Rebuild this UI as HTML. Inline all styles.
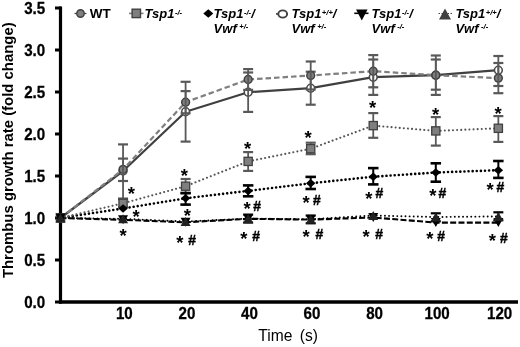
<!DOCTYPE html>
<html><head><meta charset="utf-8"><style>
html,body{margin:0;padding:0;background:#fff;}
body{width:520px;height:347px;overflow:hidden;}
svg{display:block;will-change:transform;font-family:"Liberation Sans",sans-serif;}
.tk{font-size:17.2px;font-weight:bold;fill:#000;stroke:#000;stroke-width:0.3;}
.xt{font-size:15.6px;fill:#000;}
.yt{font-size:14.7px;font-weight:bold;fill:#000;}
.ast{font-size:18.5px;font-weight:bold;fill:#000;}
.hash{font-size:14px;font-weight:bold;font-style:italic;fill:#000;stroke:#000;stroke-width:0.4;}
.lg{font-size:13px;font-weight:bold;font-style:italic;fill:#000;}
.lgn{font-size:13.5px;font-weight:bold;fill:#000;}
.sup{font-size:7.6px;font-weight:bold;}
</style></head><body>
<svg width="520" height="347" viewBox="0 0 520 347">
<rect width="520" height="347" fill="#fff"/>
<line x1="60.5" y1="6.5" x2="60.5" y2="303.5" stroke="#000" stroke-width="3.2"/>
<line x1="59" y1="302" x2="518" y2="302" stroke="#000" stroke-width="3.4"/>
<line x1="55" y1="302" x2="61" y2="302" stroke="#000" stroke-width="3"/>
<line x1="55" y1="260" x2="61" y2="260" stroke="#000" stroke-width="3"/>
<line x1="55" y1="218" x2="61" y2="218" stroke="#000" stroke-width="3"/>
<line x1="55" y1="176" x2="61" y2="176" stroke="#000" stroke-width="3"/>
<line x1="55" y1="134" x2="61" y2="134" stroke="#000" stroke-width="3"/>
<line x1="55" y1="92" x2="61" y2="92" stroke="#000" stroke-width="3"/>
<line x1="55" y1="50" x2="61" y2="50" stroke="#000" stroke-width="3"/>
<line x1="55" y1="8" x2="61" y2="8" stroke="#000" stroke-width="3"/>
<text transform="translate(45.2,308.4) scale(0.88,1)" text-anchor="end" class="tk">0.0</text>
<text transform="translate(45.2,266.4) scale(0.88,1)" text-anchor="end" class="tk">0.5</text>
<text transform="translate(45.2,224.4) scale(0.88,1)" text-anchor="end" class="tk">1.0</text>
<text transform="translate(45.2,182.4) scale(0.88,1)" text-anchor="end" class="tk">1.5</text>
<text transform="translate(45.2,140.4) scale(0.88,1)" text-anchor="end" class="tk">2.0</text>
<text transform="translate(45.2,98.4) scale(0.88,1)" text-anchor="end" class="tk">2.5</text>
<text transform="translate(45.2,56.4) scale(0.88,1)" text-anchor="end" class="tk">3.0</text>
<text transform="translate(45.2,14.4) scale(0.88,1)" text-anchor="end" class="tk">3.5</text>
<text transform="translate(124.35,319) scale(0.88,1)" text-anchor="middle" class="tk">10</text>
<text transform="translate(186.90,319) scale(0.88,1)" text-anchor="middle" class="tk">20</text>
<text transform="translate(249.45,319) scale(0.88,1)" text-anchor="middle" class="tk">40</text>
<text transform="translate(312.00,319) scale(0.88,1)" text-anchor="middle" class="tk">60</text>
<text transform="translate(374.55,319) scale(0.88,1)" text-anchor="middle" class="tk">80</text>
<text transform="translate(437.10,319) scale(0.88,1)" text-anchor="middle" class="tk">100</text>
<text transform="translate(499.65,319) scale(0.88,1)" text-anchor="middle" class="tk">120</text>
<text x="258.3" y="340.8" class="xt">Time</text><text x="317.9" y="340.8" text-anchor="end" class="xt">(s)</text>
<text transform="translate(12.5,150.2) rotate(-90) scale(1.014,1)" text-anchor="middle" class="yt">Thrombus growth rate (fold change)</text>
<polyline points="60.50,218.00 123.05,218.80 185.60,221.50 248.15,218.60 310.70,219.20 373.25,215.50 435.80,217.00 498.35,216.40" fill="none" stroke="#000" stroke-width="1.9" stroke-dasharray="0.01 4.1" stroke-linecap="round" stroke-linejoin="round"/>
<polyline points="60.50,218.00 123.05,219.80 185.60,222.30 248.15,218.80 310.70,219.60 373.25,217.50 435.80,222.60 498.35,222.60" fill="none" stroke="#000" stroke-width="2.1" stroke-dasharray="6 2.3" stroke-linecap="butt" stroke-linejoin="round"/>
<polyline points="60.50,218.00 123.05,208.50 185.60,198.30 248.15,190.90 310.70,183.30 373.25,176.70 435.80,172.50 498.35,170.20" fill="none" stroke="#000" stroke-width="2.6" stroke-dasharray="0.01 4.1" stroke-linecap="round" stroke-linejoin="round"/>
<polyline points="60.50,218.00 123.05,203.30 185.60,186.20 248.15,161.40 310.70,148.70 373.25,125.60 435.80,130.90 498.35,128.30" fill="none" stroke="#555" stroke-width="2.1" stroke-dasharray="0.01 4.1" stroke-linecap="round" stroke-linejoin="round"/>
<polyline points="60.50,218.00 123.05,171.00 185.60,111.70 248.15,92.20 310.70,88.20 373.25,77.20 435.80,75.20 498.35,70.20" fill="none" stroke="#404040" stroke-width="2.2" stroke-linecap="butt" stroke-linejoin="round"/>
<polyline points="60.50,218.00 123.05,169.40 185.60,102.20 248.15,79.50 310.70,75.50 373.25,71.20 435.80,75.20 498.35,78.10" fill="none" stroke="#7f7f7f" stroke-width="2.2" stroke-dasharray="5.5 3" stroke-linecap="butt" stroke-linejoin="round"/>
<circle cx="60.50" cy="218.00" r="3.9" fill="#fff" stroke="#4a4a4a" stroke-width="1.6"/>
<circle cx="123.05" cy="171.00" r="3.9" fill="#fff" stroke="#4a4a4a" stroke-width="1.6"/>
<circle cx="185.60" cy="111.70" r="3.9" fill="#fff" stroke="#4a4a4a" stroke-width="1.6"/>
<circle cx="248.15" cy="92.20" r="3.9" fill="#fff" stroke="#4a4a4a" stroke-width="1.6"/>
<circle cx="310.70" cy="88.20" r="3.9" fill="#fff" stroke="#4a4a4a" stroke-width="1.6"/>
<circle cx="373.25" cy="77.20" r="3.9" fill="#fff" stroke="#4a4a4a" stroke-width="1.6"/>
<circle cx="435.80" cy="75.20" r="3.9" fill="#fff" stroke="#4a4a4a" stroke-width="1.6"/>
<circle cx="498.35" cy="70.20" r="3.9" fill="#fff" stroke="#4a4a4a" stroke-width="1.6"/>
<line x1="123.05" y1="158.6" x2="123.05" y2="181.0" stroke="#595959" stroke-width="1.8"/>
<line x1="118.05" y1="158.6" x2="128.05" y2="158.6" stroke="#595959" stroke-width="2.2"/>
<line x1="118.05" y1="181.0" x2="128.05" y2="181.0" stroke="#595959" stroke-width="2.2"/>
<line x1="185.60" y1="81.8" x2="185.60" y2="141.6" stroke="#595959" stroke-width="1.8"/>
<line x1="180.60" y1="81.8" x2="190.60" y2="81.8" stroke="#595959" stroke-width="2.2"/>
<line x1="180.60" y1="141.6" x2="190.60" y2="141.6" stroke="#595959" stroke-width="2.2"/>
<line x1="248.15" y1="72.5" x2="248.15" y2="111.9" stroke="#595959" stroke-width="1.8"/>
<line x1="243.15" y1="72.5" x2="253.15" y2="72.5" stroke="#595959" stroke-width="2.2"/>
<line x1="243.15" y1="111.9" x2="253.15" y2="111.9" stroke="#595959" stroke-width="2.2"/>
<line x1="310.70" y1="71.7" x2="310.70" y2="104.7" stroke="#595959" stroke-width="1.8"/>
<line x1="305.70" y1="71.7" x2="315.70" y2="71.7" stroke="#595959" stroke-width="2.2"/>
<line x1="305.70" y1="104.7" x2="315.70" y2="104.7" stroke="#595959" stroke-width="2.2"/>
<line x1="373.25" y1="59.5" x2="373.25" y2="94.9" stroke="#595959" stroke-width="1.8"/>
<line x1="368.25" y1="59.5" x2="378.25" y2="59.5" stroke="#595959" stroke-width="2.2"/>
<line x1="368.25" y1="94.9" x2="378.25" y2="94.9" stroke="#595959" stroke-width="2.2"/>
<line x1="435.80" y1="59.5" x2="435.80" y2="89.7" stroke="#595959" stroke-width="1.8"/>
<line x1="430.80" y1="59.5" x2="440.80" y2="59.5" stroke="#595959" stroke-width="2.2"/>
<line x1="430.80" y1="89.7" x2="440.80" y2="89.7" stroke="#595959" stroke-width="2.2"/>
<line x1="498.35" y1="56" x2="498.35" y2="86" stroke="#595959" stroke-width="1.8"/>
<line x1="493.35" y1="56" x2="503.35" y2="56" stroke="#595959" stroke-width="2.2"/>
<line x1="493.35" y1="86" x2="503.35" y2="86" stroke="#595959" stroke-width="2.2"/>
<circle cx="60.50" cy="218.00" r="3.9" fill="#7f7f7f" stroke="#404040" stroke-width="1.5"/>
<circle cx="123.05" cy="169.40" r="3.9" fill="#7f7f7f" stroke="#404040" stroke-width="1.5"/>
<circle cx="185.60" cy="102.20" r="3.9" fill="#7f7f7f" stroke="#404040" stroke-width="1.5"/>
<circle cx="248.15" cy="79.50" r="3.9" fill="#7f7f7f" stroke="#404040" stroke-width="1.5"/>
<circle cx="310.70" cy="75.50" r="3.9" fill="#7f7f7f" stroke="#404040" stroke-width="1.5"/>
<circle cx="373.25" cy="71.20" r="3.9" fill="#7f7f7f" stroke="#404040" stroke-width="1.5"/>
<circle cx="435.80" cy="75.20" r="3.9" fill="#7f7f7f" stroke="#404040" stroke-width="1.5"/>
<circle cx="498.35" cy="78.10" r="3.9" fill="#7f7f7f" stroke="#404040" stroke-width="1.5"/>
<line x1="123.05" y1="144.4" x2="123.05" y2="199" stroke="#595959" stroke-width="1.8"/>
<line x1="118.05" y1="144.4" x2="128.05" y2="144.4" stroke="#595959" stroke-width="2.2"/>
<line x1="118.05" y1="199" x2="128.05" y2="199" stroke="#595959" stroke-width="2.2"/>
<line x1="185.60" y1="91.1" x2="185.60" y2="113.3" stroke="#595959" stroke-width="1.8"/>
<line x1="180.60" y1="91.1" x2="190.60" y2="91.1" stroke="#595959" stroke-width="2.2"/>
<line x1="180.60" y1="113.3" x2="190.60" y2="113.3" stroke="#595959" stroke-width="2.2"/>
<line x1="248.15" y1="69.1" x2="248.15" y2="89.9" stroke="#595959" stroke-width="1.8"/>
<line x1="243.15" y1="69.1" x2="253.15" y2="69.1" stroke="#595959" stroke-width="2.2"/>
<line x1="243.15" y1="89.9" x2="253.15" y2="89.9" stroke="#595959" stroke-width="2.2"/>
<line x1="310.70" y1="61.5" x2="310.70" y2="89.5" stroke="#595959" stroke-width="1.8"/>
<line x1="305.70" y1="61.5" x2="315.70" y2="61.5" stroke="#595959" stroke-width="2.2"/>
<line x1="305.70" y1="89.5" x2="315.70" y2="89.5" stroke="#595959" stroke-width="2.2"/>
<line x1="373.25" y1="55.1" x2="373.25" y2="87.3" stroke="#595959" stroke-width="1.8"/>
<line x1="368.25" y1="55.1" x2="378.25" y2="55.1" stroke="#595959" stroke-width="2.2"/>
<line x1="368.25" y1="87.3" x2="378.25" y2="87.3" stroke="#595959" stroke-width="2.2"/>
<line x1="435.80" y1="55.5" x2="435.80" y2="94.9" stroke="#595959" stroke-width="1.8"/>
<line x1="430.80" y1="55.5" x2="440.80" y2="55.5" stroke="#595959" stroke-width="2.2"/>
<line x1="430.80" y1="94.9" x2="440.80" y2="94.9" stroke="#595959" stroke-width="2.2"/>
<line x1="498.35" y1="63" x2="498.35" y2="93.2" stroke="#595959" stroke-width="1.8"/>
<line x1="493.35" y1="63" x2="503.35" y2="63" stroke="#595959" stroke-width="2.2"/>
<line x1="493.35" y1="93.2" x2="503.35" y2="93.2" stroke="#595959" stroke-width="2.2"/>
<line x1="123.05" y1="198.6" x2="123.05" y2="207" stroke="#595959" stroke-width="1.8"/>
<line x1="118.05" y1="198.6" x2="128.05" y2="198.6" stroke="#595959" stroke-width="2.2"/>
<line x1="118.05" y1="207" x2="128.05" y2="207" stroke="#595959" stroke-width="2.2"/>
<line x1="185.60" y1="179" x2="185.60" y2="193.4" stroke="#595959" stroke-width="1.8"/>
<line x1="180.60" y1="179" x2="190.60" y2="179" stroke="#595959" stroke-width="2.2"/>
<line x1="180.60" y1="193.4" x2="190.60" y2="193.4" stroke="#595959" stroke-width="2.2"/>
<line x1="248.15" y1="152.1" x2="248.15" y2="170.9" stroke="#595959" stroke-width="1.8"/>
<line x1="243.15" y1="152.1" x2="253.15" y2="152.1" stroke="#595959" stroke-width="2.2"/>
<line x1="243.15" y1="170.9" x2="253.15" y2="170.9" stroke="#595959" stroke-width="2.2"/>
<line x1="310.70" y1="142.7" x2="310.70" y2="154.2" stroke="#595959" stroke-width="1.8"/>
<line x1="305.70" y1="142.7" x2="315.70" y2="142.7" stroke="#595959" stroke-width="2.2"/>
<line x1="305.70" y1="154.2" x2="315.70" y2="154.2" stroke="#595959" stroke-width="2.2"/>
<line x1="373.25" y1="113.1" x2="373.25" y2="137.8" stroke="#595959" stroke-width="1.8"/>
<line x1="368.25" y1="113.1" x2="378.25" y2="113.1" stroke="#595959" stroke-width="2.2"/>
<line x1="368.25" y1="137.8" x2="378.25" y2="137.8" stroke="#595959" stroke-width="2.2"/>
<line x1="435.80" y1="117.1" x2="435.80" y2="145.6" stroke="#595959" stroke-width="1.8"/>
<line x1="430.80" y1="117.1" x2="440.80" y2="117.1" stroke="#595959" stroke-width="2.2"/>
<line x1="430.80" y1="145.6" x2="440.80" y2="145.6" stroke="#595959" stroke-width="2.2"/>
<line x1="498.35" y1="116.1" x2="498.35" y2="141.9" stroke="#595959" stroke-width="1.8"/>
<line x1="493.35" y1="116.1" x2="503.35" y2="116.1" stroke="#595959" stroke-width="2.2"/>
<line x1="493.35" y1="141.9" x2="503.35" y2="141.9" stroke="#595959" stroke-width="2.2"/>
<rect x="56.40" y="213.90" width="8.2" height="8.2" fill="#7f7f7f" stroke="#404040" stroke-width="1.3"/>
<rect x="118.95" y="199.20" width="8.2" height="8.2" fill="#7f7f7f" stroke="#404040" stroke-width="1.3"/>
<rect x="181.50" y="182.10" width="8.2" height="8.2" fill="#7f7f7f" stroke="#404040" stroke-width="1.3"/>
<rect x="244.05" y="157.30" width="8.2" height="8.2" fill="#7f7f7f" stroke="#404040" stroke-width="1.3"/>
<rect x="306.60" y="144.60" width="8.2" height="8.2" fill="#7f7f7f" stroke="#404040" stroke-width="1.3"/>
<rect x="369.15" y="121.50" width="8.2" height="8.2" fill="#7f7f7f" stroke="#404040" stroke-width="1.3"/>
<rect x="431.70" y="126.80" width="8.2" height="8.2" fill="#7f7f7f" stroke="#404040" stroke-width="1.3"/>
<rect x="494.25" y="124.20" width="8.2" height="8.2" fill="#7f7f7f" stroke="#404040" stroke-width="1.3"/>
<line x1="185.60" y1="193" x2="185.60" y2="204.6" stroke="#000" stroke-width="2"/>
<line x1="180.35" y1="193" x2="190.85" y2="193" stroke="#000" stroke-width="2.6"/>
<line x1="180.35" y1="204.6" x2="190.85" y2="204.6" stroke="#000" stroke-width="2.6"/>
<line x1="248.15" y1="185.4" x2="248.15" y2="196.3" stroke="#000" stroke-width="2"/>
<line x1="242.90" y1="185.4" x2="253.40" y2="185.4" stroke="#000" stroke-width="2.6"/>
<line x1="242.90" y1="196.3" x2="253.40" y2="196.3" stroke="#000" stroke-width="2.6"/>
<line x1="310.70" y1="176.9" x2="310.70" y2="189" stroke="#000" stroke-width="2"/>
<line x1="305.45" y1="176.9" x2="315.95" y2="176.9" stroke="#000" stroke-width="2.6"/>
<line x1="305.45" y1="189" x2="315.95" y2="189" stroke="#000" stroke-width="2.6"/>
<line x1="373.25" y1="168.1" x2="373.25" y2="184.4" stroke="#000" stroke-width="2"/>
<line x1="368.00" y1="168.1" x2="378.50" y2="168.1" stroke="#000" stroke-width="2.6"/>
<line x1="368.00" y1="184.4" x2="378.50" y2="184.4" stroke="#000" stroke-width="2.6"/>
<line x1="435.80" y1="163.3" x2="435.80" y2="181.7" stroke="#000" stroke-width="2"/>
<line x1="430.55" y1="163.3" x2="441.05" y2="163.3" stroke="#000" stroke-width="2.6"/>
<line x1="430.55" y1="181.7" x2="441.05" y2="181.7" stroke="#000" stroke-width="2.6"/>
<line x1="498.35" y1="161" x2="498.35" y2="177.9" stroke="#000" stroke-width="2"/>
<line x1="493.10" y1="161" x2="503.60" y2="161" stroke="#000" stroke-width="2.6"/>
<line x1="493.10" y1="177.9" x2="503.60" y2="177.9" stroke="#000" stroke-width="2.6"/>
<path d="M60.50,213.75 L65.25,218.00 L60.50,222.25 L55.75,218.00Z" fill="#000"/>
<path d="M123.05,204.25 L127.80,208.50 L123.05,212.75 L118.30,208.50Z" fill="#000"/>
<path d="M185.60,194.05 L190.35,198.30 L185.60,202.55 L180.85,198.30Z" fill="#000"/>
<path d="M248.15,186.65 L252.90,190.90 L248.15,195.15 L243.40,190.90Z" fill="#000"/>
<path d="M310.70,179.05 L315.45,183.30 L310.70,187.55 L305.95,183.30Z" fill="#000"/>
<path d="M373.25,172.45 L378.00,176.70 L373.25,180.95 L368.50,176.70Z" fill="#000"/>
<path d="M435.80,168.25 L440.55,172.50 L435.80,176.75 L431.05,172.50Z" fill="#000"/>
<path d="M498.35,165.95 L503.10,170.20 L498.35,174.45 L493.60,170.20Z" fill="#000"/>

<line x1="248.15" y1="214.6" x2="248.15" y2="222.6" stroke="#000" stroke-width="1.8"/>
<line x1="243.15" y1="214.6" x2="253.15" y2="214.6" stroke="#000" stroke-width="2.2"/>
<line x1="243.15" y1="222.6" x2="253.15" y2="222.6" stroke="#000" stroke-width="2.2"/>
<line x1="310.70" y1="215.5" x2="310.70" y2="223.3" stroke="#000" stroke-width="1.8"/>
<line x1="305.70" y1="215.5" x2="315.70" y2="215.5" stroke="#000" stroke-width="2.2"/>
<line x1="305.70" y1="223.3" x2="315.70" y2="223.3" stroke="#000" stroke-width="2.2"/>
<line x1="435.80" y1="213.3" x2="435.80" y2="221.3" stroke="#000" stroke-width="1.8"/>
<line x1="430.80" y1="213.3" x2="440.80" y2="213.3" stroke="#000" stroke-width="2.2"/>
<line x1="430.80" y1="221.3" x2="440.80" y2="221.3" stroke="#000" stroke-width="2.2"/>
<line x1="498.35" y1="212.3" x2="498.35" y2="220.3" stroke="#000" stroke-width="1.8"/>
<line x1="493.35" y1="212.3" x2="503.35" y2="212.3" stroke="#000" stroke-width="2.2"/>
<line x1="493.35" y1="220.3" x2="503.35" y2="220.3" stroke="#000" stroke-width="2.2"/>
<path d="M55.50,213.50 L65.50,213.50 L60.50,222.50Z" fill="#000"/>
<path d="M55.50,222.50 L65.50,222.50 L60.50,213.50Z" fill="#222"/>
<path d="M118.05,215.30 L128.05,215.30 L123.05,224.30Z" fill="#000"/>
<path d="M118.05,223.30 L128.05,223.30 L123.05,214.30Z" fill="#222"/>
<path d="M180.60,217.80 L190.60,217.80 L185.60,226.80Z" fill="#000"/>
<path d="M180.60,226.00 L190.60,226.00 L185.60,217.00Z" fill="#222"/>
<path d="M243.15,214.30 L253.15,214.30 L248.15,223.30Z" fill="#000"/>
<path d="M243.15,223.10 L253.15,223.10 L248.15,214.10Z" fill="#222"/>
<path d="M305.70,215.10 L315.70,215.10 L310.70,224.10Z" fill="#000"/>
<path d="M305.70,223.70 L315.70,223.70 L310.70,214.70Z" fill="#222"/>
<path d="M368.25,213.00 L378.25,213.00 L373.25,222.00Z" fill="#000"/>
<path d="M368.25,220.00 L378.25,220.00 L373.25,211.00Z" fill="#222"/>
<path d="M430.80,218.10 L440.80,218.10 L435.80,227.10Z" fill="#000"/>
<path d="M430.80,221.50 L440.80,221.50 L435.80,212.50Z" fill="#222"/>
<path d="M493.35,218.10 L503.35,218.10 L498.35,227.10Z" fill="#000"/>
<path d="M493.35,220.90 L503.35,220.90 L498.35,211.90Z" fill="#222"/>
<text x="131.4" y="199.5" text-anchor="middle" class="ast">*</text>
<text x="136.0" y="223.0" text-anchor="middle" class="ast">*</text>
<text x="123.0" y="241.5" text-anchor="middle" class="ast">*</text>
<text x="184.4" y="182.4" text-anchor="middle" class="ast">*</text>
<text x="187.3" y="222.0" text-anchor="middle" class="ast">*</text>
<text x="179.8" y="248.5" text-anchor="middle" class="ast">*</text>
<text x="191.9" y="244.8" text-anchor="middle" class="hash">#</text>
<text x="247.7" y="154.7" text-anchor="middle" class="ast">*</text>
<text x="247.1" y="215.1" text-anchor="middle" class="ast">*</text>
<text x="256.9" y="211.4" text-anchor="middle" class="hash">#</text>
<text x="243.8" y="245.0" text-anchor="middle" class="ast">*</text>
<text x="255.9" y="241.3" text-anchor="middle" class="hash">#</text>
<text x="308.1" y="143.6" text-anchor="middle" class="ast">*</text>
<text x="306.1" y="208.6" text-anchor="middle" class="ast">*</text>
<text x="316.7" y="204.9" text-anchor="middle" class="hash">#</text>
<text x="306.1" y="242.8" text-anchor="middle" class="ast">*</text>
<text x="319.2" y="239.1" text-anchor="middle" class="hash">#</text>
<text x="372.7" y="114.2" text-anchor="middle" class="ast">*</text>
<text x="368.8" y="205.2" text-anchor="middle" class="ast">*</text>
<text x="379.2" y="198.1" text-anchor="middle" class="hash">#</text>
<text x="366.0" y="242.6" text-anchor="middle" class="ast">*</text>
<text x="379.0" y="238.9" text-anchor="middle" class="hash">#</text>
<text x="435.5" y="120.5" text-anchor="middle" class="ast">*</text>
<text x="432.8" y="201.6" text-anchor="middle" class="ast">*</text>
<text x="442.1" y="197.9" text-anchor="middle" class="hash">#</text>
<text x="429.8" y="245.1" text-anchor="middle" class="ast">*</text>
<text x="440.8" y="241.4" text-anchor="middle" class="hash">#</text>
<text x="498.2" y="119.6" text-anchor="middle" class="ast">*</text>
<text x="490.1" y="195.6" text-anchor="middle" class="ast">*</text>
<text x="500.2" y="191.9" text-anchor="middle" class="hash">#</text>
<text x="492.4" y="246.9" text-anchor="middle" class="ast">*</text>
<text x="503.6" y="243.2" text-anchor="middle" class="hash">#</text>
<line x1="74.5" y1="13.5" x2="86.5" y2="13.5" stroke="#404040" stroke-width="1.2"/>
<circle cx="80.50" cy="13.50" r="3.7" fill="#7f7f7f" stroke="#404040" stroke-width="1.5"/>
<text x="89.8" y="18.4" class="lgn">WT</text>
<line x1="129" y1="13.4" x2="143.5" y2="13.4" stroke="#7f7f7f" stroke-width="1.6"/>
<rect x="132.10" y="9.20" width="8.4" height="8.4" fill="#7f7f7f" stroke="#404040" stroke-width="1.4"/>
<text x="144.6" y="18.1" class="lg">Tsp1<tspan class="sup" dx="0.5" dy="-3.6">-/-</tspan><tspan dy="3.6"></tspan></text>
<path d="M208.30,9.15 L213.30,13.40 L208.30,17.65 L203.30,13.40Z" fill="#000"/>
<text x="213.6" y="18.1" class="lg">Tsp1<tspan class="sup" dx="0.5" dy="-3.6">-/-</tspan><tspan dy="3.6">/</tspan></text><text x="213.6" y="32.7" class="lg">Vwf<tspan class="sup" dx="2.5" dy="-3.6">+/-</tspan></text>
<line x1="276" y1="13.9" x2="288" y2="13.9" stroke="#404040" stroke-width="1.6"/>
<ellipse cx="282.7" cy="14" rx="4.4" ry="3.6" fill="#fff" stroke="#404040" stroke-width="1.9"/>
<text x="291.5" y="18.1" class="lg">Tsp1<tspan class="sup" dx="0.5" dy="-3.6">+/+</tspan><tspan dy="3.6">/</tspan></text><text x="291.5" y="32.7" class="lg">Vwf<tspan class="sup" dx="2.5" dy="-3.6">+/-</tspan></text>
<line x1="354.3" y1="13.3" x2="368.5" y2="13.3" stroke="#000" stroke-width="1.6"/>
<path d="M356.05,9.60 L367.55,9.60 L361.80,20.60Z" fill="#000"/>
<text x="371.6" y="18.1" class="lg">Tsp1<tspan class="sup" dx="0.5" dy="-3.6">-/-</tspan><tspan dy="3.6">/</tspan></text><text x="371.6" y="32.7" class="lg">Vwf<tspan class="sup" dx="2.5" dy="-3.6">-/-</tspan></text>
<line x1="438.5" y1="13.5" x2="452.3" y2="13.5" stroke="#404040" stroke-width="1.2" stroke-dasharray="1.5 1.5"/>
<path d="M439.00,19.50 L451.00,19.50 L445.00,8.50Z" fill="#404040"/>
<text x="455.4" y="18.1" class="lg">Tsp1<tspan class="sup" dx="0.5" dy="-3.6">+/+</tspan><tspan dy="3.6">/</tspan></text><text x="455.4" y="32.7" class="lg">Vwf<tspan class="sup" dx="2.5" dy="-3.6">-/-</tspan></text>
</svg>
</body></html>
